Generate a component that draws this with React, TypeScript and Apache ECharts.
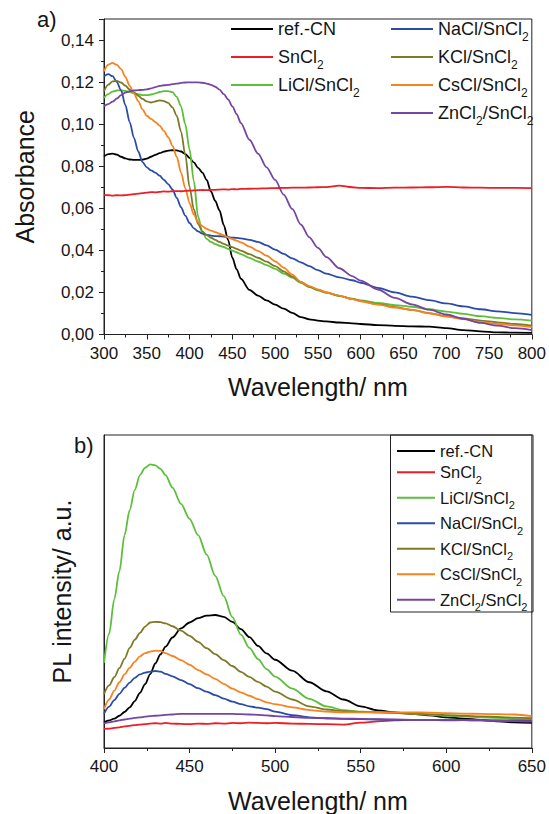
import React, { useEffect, useRef } from "react";
import * as echarts from "echarts";

// ---------- (a) absorbance ----------
const absWavelengths = [300, 305, 310, 315, 320, 325, 330, 335, 340, 345, 350, 355, 360, 365, 370, 375, 380, 385, 390, 395, 400, 405, 410, 415, 420, 425, 430, 435, 440, 445, 450, 455, 460, 470, 480, 490, 500, 510, 520, 530, 540, 550, 560, 575, 590, 600, 620, 640, 660, 680, 700, 720, 740, 760, 780, 800];

const absRefCN = [0.0847, 0.0858, 0.086, 0.0855, 0.0845, 0.0837, 0.0832, 0.083, 0.083, 0.0831, 0.0836, 0.0845, 0.0854, 0.0862, 0.0869, 0.0874, 0.0876, 0.0875, 0.087, 0.0858, 0.084, 0.0818, 0.0792, 0.077, 0.0735, 0.068, 0.0635, 0.059, 0.052, 0.045, 0.0365, 0.031, 0.0265, 0.0212, 0.0185, 0.0162, 0.0142, 0.0123, 0.0103, 0.0083, 0.0072, 0.0066, 0.0062, 0.0057, 0.0053, 0.005, 0.0045, 0.0041, 0.0039, 0.0037, 0.003, 0.0021, 0.0015, 0.001, 0.0009, 0.0008];
const absSnCl2 = [0.0664, 0.0662, 0.066, 0.0662, 0.0661, 0.0663, 0.0665, 0.0667, 0.067, 0.0672, 0.0675, 0.0677, 0.0676, 0.0678, 0.068, 0.0679, 0.0681, 0.0682, 0.0681, 0.0683, 0.0684, 0.0685, 0.0686, 0.0687, 0.0686, 0.0688, 0.0688, 0.0689, 0.069, 0.0689, 0.0691, 0.069, 0.0692, 0.0693, 0.0694, 0.0695, 0.0696, 0.0697, 0.0698, 0.0698, 0.0699, 0.07, 0.0701, 0.0708, 0.07, 0.0697, 0.0696, 0.0698, 0.0699, 0.07, 0.0702, 0.0699, 0.0698, 0.0697, 0.0697, 0.0696];
const absLiCl = [0.1125, 0.1143, 0.1155, 0.116, 0.1161, 0.1158, 0.1152, 0.1148, 0.1143, 0.1138, 0.1138, 0.1141, 0.1146, 0.1153, 0.1157, 0.1157, 0.1152, 0.113, 0.1085, 0.1, 0.088, 0.073, 0.056, 0.0485, 0.0455, 0.044, 0.043, 0.0422, 0.0416, 0.0407, 0.0399, 0.0391, 0.0382, 0.0364, 0.0347, 0.033, 0.0312, 0.029, 0.027, 0.0245, 0.0225, 0.021, 0.0198, 0.0184, 0.017, 0.0162, 0.015, 0.014, 0.0132, 0.012, 0.0109, 0.0098, 0.0087, 0.0079, 0.0072, 0.0066];
const absNaCl = [0.1228, 0.1238, 0.1228, 0.12, 0.116, 0.109, 0.101, 0.0935, 0.087, 0.082, 0.0795, 0.078, 0.077, 0.0755, 0.0735, 0.0715, 0.069, 0.065, 0.0605, 0.0565, 0.053, 0.0505, 0.049, 0.048, 0.0474, 0.047, 0.0468, 0.0467, 0.0466, 0.0463, 0.0461, 0.0459, 0.0457, 0.045, 0.044, 0.0424, 0.0404, 0.0383, 0.0362, 0.0343, 0.0325, 0.0306, 0.0289, 0.0272, 0.0258, 0.0246, 0.0222, 0.02, 0.018, 0.0163, 0.0148, 0.0134, 0.012, 0.011, 0.0102, 0.0093];
const absKCl = [0.1156, 0.1188, 0.1203, 0.1206, 0.1198, 0.1183, 0.1165, 0.115, 0.1135, 0.112, 0.1108, 0.1103, 0.1108, 0.1113, 0.111, 0.1101, 0.108, 0.104, 0.0965, 0.0855, 0.07, 0.0595, 0.0525, 0.049, 0.0473, 0.046, 0.045, 0.044, 0.0431, 0.0423, 0.0415, 0.0407, 0.0399, 0.0382, 0.0365, 0.0346, 0.0325, 0.03, 0.0275, 0.025, 0.0228, 0.0212, 0.02, 0.0184, 0.0169, 0.016, 0.0144, 0.013, 0.0117, 0.0102, 0.0087, 0.0077, 0.0066, 0.0058, 0.005, 0.0042];
const absCsCl = [0.1251, 0.1283, 0.1291, 0.1282, 0.1262, 0.1225, 0.1182, 0.1145, 0.111, 0.107, 0.104, 0.1025, 0.101, 0.0993, 0.0968, 0.0938, 0.0898, 0.0845, 0.077, 0.0695, 0.0625, 0.057, 0.0535, 0.0515, 0.0502, 0.0494, 0.0487, 0.0479, 0.0471, 0.0462, 0.0454, 0.0446, 0.0438, 0.0418, 0.0398, 0.0375, 0.0348, 0.0318, 0.0285, 0.025, 0.023, 0.0215, 0.02, 0.0185, 0.0168, 0.0158, 0.0142, 0.0128, 0.0117, 0.0101, 0.0085, 0.0073, 0.006, 0.0051, 0.0043, 0.0035];
const absZnCl2 = [0.1085, 0.1095, 0.1107, 0.1122, 0.1138, 0.115, 0.1157, 0.116, 0.1162, 0.1163, 0.1165, 0.117, 0.1176, 0.1182, 0.1185, 0.1187, 0.119, 0.1193, 0.1196, 0.1198, 0.1199, 0.1199, 0.1199, 0.1197, 0.1193, 0.1187, 0.1178, 0.1164, 0.1143, 0.1118, 0.1085, 0.1048, 0.1005, 0.0926, 0.086, 0.0795, 0.0735, 0.0665, 0.0597, 0.0523, 0.0462, 0.0412, 0.0368, 0.0315, 0.0278, 0.0256, 0.0214, 0.0174, 0.0143, 0.0118, 0.0095, 0.0075, 0.0055, 0.0042, 0.003, 0.0021];

const absYTicks = [0, 0.02, 0.04, 0.06, 0.08, 0.1, 0.12, 0.14];

// ---------- (b) photoluminescence (arbitrary units) ----------
const plWavelengths = [400, 403, 406, 409, 412, 415, 418, 421, 424, 427, 430, 433, 436, 440, 445, 450, 455, 460, 465, 470, 475, 480, 485, 490, 495, 500, 510, 520, 530, 540, 550, 560, 570, 580, 590, 600, 610, 620, 630, 640, 650];

const plRefCN = [8.2, 8.8, 9.4, 10.3, 11.5, 13, 15, 17.6, 20.4, 23.6, 27, 29.9, 32.4, 35.3, 38.2, 40.1, 41.5, 42.3, 42.5, 41.9, 40.3, 38, 35.4, 32.6, 30.2, 28.2, 24.7, 21, 18.1, 15.5, 13.3, 12, 11.4, 10.9, 10.4, 9.8, 9.4, 9, 8.5, 8.2, 8];
const plSnCl2 = [6.1, 6.2, 6.4, 6.6, 6.9, 7.1, 7.3, 7.5, 7.6, 7.8, 7.9, 7.8, 8, 7.8, 7.7, 7.6, 7.8, 7.7, 7.9, 7.8, 8, 7.9, 8.1, 8, 7.9, 8, 7.8, 7.7, 7.6, 7.5, 8.1, 8.5, 8.8, 9, 9, 8.8, 8.9, 8.8, 8.7, 8.6, 8.5];
const plLiCl = [27.2, 36.5, 47.5, 56.5, 68, 76, 82.5, 87.2, 89.5, 90.6, 90.3, 89.2, 87.2, 83.2, 78, 73.2, 68, 61.8, 55, 48.5, 41.8, 36.2, 32, 28.4, 25.2, 22.8, 19, 15.7, 13.3, 12.1, 11.6, 11.4, 11.2, 10.9, 10.6, 10.3, 10.1, 9.8, 9.6, 9.3, 9];
const plNaCl = [10.9, 13.2, 15.3, 17.3, 19.2, 20.9, 22.4, 23.5, 24.1, 24.4, 24.6, 24.4, 23.7, 22.9, 21.7, 20.4, 19.1, 18, 16.9, 15.8, 14.8, 14, 13.3, 12.9, 12.4, 11.6, 10.5, 9.8, 9.5, 9.3, 9.2, 9.1, 9, 9, 9, 9, 9, 8.9, 8.8, 8.8, 8.7];
const plKCl = [17.2, 20, 22.6, 25.5, 28.5, 32, 34.6, 36.8, 38.8, 40.1, 40.3, 40.2, 39.8, 38.9, 37.5, 35.8, 33.9, 31.9, 30, 28.1, 26.2, 24.3, 22.7, 21.1, 19.6, 18, 15.5, 13.3, 12.3, 11.8, 11.5, 11.4, 11.2, 11, 10.8, 10.5, 10.3, 10.1, 9.9, 9.7, 9.5];
const plCsCl = [12.4, 15.5, 18.3, 21, 23.5, 25.6, 27.6, 29.3, 30.3, 30.8, 31.1, 31, 30.3, 29.4, 28.1, 26.6, 24.9, 23.5, 22.1, 20.5, 19, 17.8, 16.7, 15.6, 14.6, 14, 13, 12.1, 11.6, 11.4, 11.4, 11.4, 11.4, 11.4, 11.3, 11.1, 11, 10.9, 10.8, 10.7, 10.2];
const plZnCl2 = [7.9, 8.2, 8.5, 8.8, 9.1, 9.4, 9.6, 9.8, 10, 10.2, 10.3, 10.4, 10.6, 10.7, 10.9, 10.9, 10.9, 10.9, 10.9, 10.9, 10.9, 10.8, 10.7, 10.6, 10.4, 10.2, 9.9, 9.6, 9.5, 9.4, 9.3, 9.2, 9.1, 9, 9, 9, 8.9, 8.8, 8.7, 8.6, 8.5];

// ---------- names / colours ----------
const seriesNames = ["ref.-CN", "SnCl2", "LiCl/SnCl2", "NaCl/SnCl2", "KCl/SnCl2", "CsCl/SnCl2", "ZnCl2/SnCl2"];
const seriesColors = ["#000000", "#ee1c25", "#5cbf3a", "#2b4ba8", "#7d7a26", "#f7821e", "#7545a3"];
const absSeries = [absRefCN, absSnCl2, absLiCl, absNaCl, absKCl, absCsCl, absZnCl2];
const plSeries = [plRefCN, plSnCl2, plLiCl, plNaCl, plKCl, plCsCl, plZnCl2];

const legendTopCol1 = ["ref.-CN", "SnCl2", "LiCl/SnCl2"];
const legendTopCol2 = ["NaCl/SnCl2", "KCl/SnCl2", "CsCl/SnCl2", "ZnCl2/SnCl2"];

const FONT = "Liberation Sans, Arial, sans-serif";
const INK = "#151515";

const richName = (n: string) => n.replace(/Cl2/g, "Cl{s|2}");

export default function App() {
  const ref = useRef<HTMLDivElement>(null);

  useEffect(() => {
    if (!ref.current) return;
    const chart = echarts.init(ref.current, undefined, { renderer: "svg" });

    const axisLine = { show: true, onZero: false, lineStyle: { color: "#222", width: 1 } };
    const tick = { show: true, length: 5, lineStyle: { color: "#222", width: 1 } };
    const minor = { show: true, splitNumber: 2, length: 3, lineStyle: { color: "#222", width: 1 } };
    const labelStyle = { fontSize: 17, color: INK, fontFamily: FONT };
    const nameStyle = { fontSize: 25, color: INK, fontFamily: FONT };

    const series: any[] = [];
    seriesNames.forEach((name, k) => {
      series.push({
        name,
        type: "line",
        xAxisIndex: 0,
        yAxisIndex: 0,
        data: absWavelengths.map((w, i) => [w, absSeries[k][i]]),
        showSymbol: false,
        symbol: "none",
        smooth: 0.3,
        smoothMonotone: "x",
        lineStyle: { color: seriesColors[k], width: 1.8 },
        itemStyle: { color: seriesColors[k] },
        z: k === 1 ? 3 : 2,
      });
    });
    seriesNames.forEach((name, k) => {
      series.push({
        name,
        type: "line",
        xAxisIndex: 1,
        yAxisIndex: 1,
        data: plWavelengths.map((w, i) => [w, plSeries[k][i]]),
        showSymbol: false,
        symbol: "none",
        smooth: 0.3,
        smoothMonotone: "x",
        lineStyle: { color: seriesColors[k], width: 1.8 },
        itemStyle: { color: seriesColors[k] },
      });
    });

    const topLegend = (left: number, data: string[]) => ({
      show: true,
      orient: "vertical",
      left,
      top: 15,
      padding: 0,
      itemGap: 0,
      itemWidth: 42,
      itemHeight: 2,
      icon: "rect",
      selectedMode: false,
      data,
      formatter: richName,
      textStyle: {
        fontSize: 18,
        color: INK,
        fontFamily: FONT,
        lineHeight: 28,
        rich: {
          s: { fontSize: 12, fontFamily: FONT, color: INK, lineHeight: 28, verticalAlign: "bottom" },
        },
      },
    });

    const option: any = {
      animation: false,
      backgroundColor: "#ffffff",
      grid: [
        { left: 104, top: 19, width: 429, height: 315.5, show: true, borderColor: "#222", borderWidth: 1, backgroundColor: "transparent" },
        { left: 104, top: 435, width: 429, height: 316, show: true, borderColor: "#222", borderWidth: 1, backgroundColor: "transparent" },
      ],
      xAxis: [
        {
          gridIndex: 0, type: "value", min: 300, max: 800, interval: 50,
          axisLine, axisTick: tick, minorTick: minor,
          splitLine: { show: false }, minorSplitLine: { show: false },
          axisLabel: { ...labelStyle, margin: 10 },
          name: "Wavelength/ nm", nameLocation: "middle", nameGap: 40, nameTextStyle: nameStyle,
        },
        {
          gridIndex: 1, type: "value", min: 400, max: 650, interval: 50,
          axisLine, axisTick: tick, minorTick: minor,
          splitLine: { show: false }, minorSplitLine: { show: false },
          axisLabel: { ...labelStyle, margin: 10 },
          name: "Wavelength/ nm", nameLocation: "middle", nameGap: 40, nameTextStyle: nameStyle,
        },
      ],
      yAxis: [
        {
          gridIndex: 0, type: "value", min: 0, max: 0.15, interval: 0.02,
          axisLine, axisTick: tick, minorTick: minor,
          splitLine: { show: false }, minorSplitLine: { show: false },
          axisLabel: {
            ...labelStyle, margin: 10, showMaxLabel: false,
            formatter: (v: number) => {
              const t = absYTicks.find((a) => Math.abs(a - v) < 1e-6);
              return t === undefined ? "" : t.toFixed(2).replace(".", ",");
            },
          },
          name: "Absorbance", nameLocation: "middle", nameGap: 67, nameTextStyle: nameStyle,
        },
        {
          gridIndex: 1, type: "value", min: 0, max: 100,
          axisLine, axisTick: { show: false }, axisLabel: { show: false },
          splitLine: { show: false },
          name: "PL intensity/ a.u.", nameLocation: "middle", nameGap: 30, nameTextStyle: nameStyle,
        },
      ],
      legend: [
        topLegend(231, legendTopCol1),
        topLegend(391, legendTopCol2),
        {
          show: true,
          orient: "vertical",
          left: 397,
          top: 442.5,
          padding: 0,
          itemGap: 0,
          itemWidth: 38,
          itemHeight: 2,
          icon: "rect",
          selectedMode: false,
          data: seriesNames,
          formatter: richName,
          textStyle: {
            fontSize: 16.5,
            color: INK,
            fontFamily: FONT,
            lineHeight: 15,
            rich: {
              s: { fontSize: 11, fontFamily: FONT, color: INK, lineHeight: 25.5, verticalAlign: "bottom" },
            },
          },
        },
      ],
      graphic: [
        { type: "text", left: 37, top: 8, style: { text: "a)", fontSize: 22, fill: INK, fontFamily: FONT } },
        { type: "text", left: 74, top: 434, style: { text: "b)", fontSize: 22, fill: INK, fontFamily: FONT } },
        {
          type: "rect",
          shape: { x: 390.5, y: 435, width: 142.5, height: 177 },
          style: { fill: "transparent", stroke: "#222", lineWidth: 1 },
          z: 10,
        },
      ],
      series,
    };

    chart.setOption(option);
    return () => chart.dispose();
  }, []);

  return (
    <div
      ref={ref}
      style={{ position: "absolute", left: 0, top: 0, width: 549, height: 814, background: "#fff" }}
    />
  );
}
